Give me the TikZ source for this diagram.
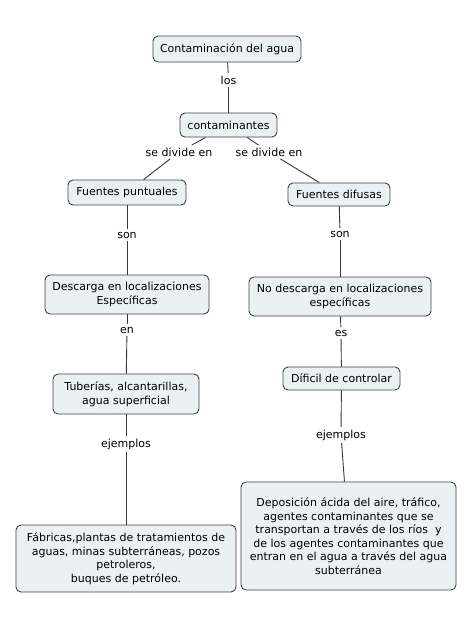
\documentclass[tikz,border=0pt]{standalone}
\usepackage{fontspec}
\setmainfont{DejaVu Sans}
\definecolor{boxfill}{HTML}{EBF1F3}
\definecolor{boxline}{HTML}{404040}
\definecolor{conn}{HTML}{383838}
\begin{document}
\begin{tikzpicture}[x=1pt,y=-1pt,
  concept/.style={draw=boxline,line width=0.9pt,fill=boxfill,rounded corners=5pt,
    inner sep=0pt,align=center,font=\fontsize{11}{13.5}\selectfont},
  lbl/.style={inner sep=2.5pt,font=\fontsize{11}{13.5}\selectfont},
  link/.style={draw=conn,line width=0.9pt}]
\useasboundingbox[fill=white] (0,0) rectangle (474,630);
% concepts
\node[concept,minimum width=148pt,minimum height=26pt] (top) at (227,49) {Contaminación del agua};
\node[concept,minimum width=97pt,minimum height=24pt] (cont) at (228.5,125) {contaminantes};
\node[concept,minimum width=118pt,minimum height=25pt] (fp) at (127,192.5) {Fuentes puntuales};
\node[concept,minimum width=102pt,minimum height=23pt] (fd) at (339,194.5) {Fuentes difusas};
\node[concept,minimum width=164pt,minimum height=39pt] (desc) at (127,294.5) {Descarga en localizaciones\\Específicas};
\node[concept,minimum width=182pt,minimum height=39pt] (nodesc) at (340,296.5) {No descarga en localizaciones\\específicas};
\node[concept,minimum width=117pt,minimum height=23pt] (dif) at (341.5,378.5) {Díficil de controlar};
\node[concept,minimum width=146pt,minimum height=40pt] (tub) at (126,394) {Tuberías, alcantarillas,\\agua superficial};
\node[concept,minimum width=220pt,minimum height=67pt] (fab) at (126,558.5) {Fábricas,plantas de tratamientos de\\aguas, minas subterráneas, pozos\\petroleros,\\buques de petróleo.};
\node[concept,minimum width=215pt,minimum height=108pt] (dep) at (348.5,536) {Deposición ácida del aire, tráfico,\\agentes contaminantes que se\\transportan a través de los ríos\ \ y\\de los agentes contaminantes que\\entran en el agua a través del agua\\subterránea};
% linking phrases
\node[lbl] (l1) at (228.5,80) {los};
\node[lbl] (l2) at (179,152) {se divide en};
\node[lbl] (l3) at (269,152) {se divide en};
\node[lbl] (l4) at (127,235) {son};
\node[lbl] (l5) at (340,234) {son};
\node[lbl] (l6) at (127,330) {en};
\node[lbl] (l7) at (341,333) {es};
\node[lbl] (l8) at (126,444) {ejemplos};
\node[lbl] (l9) at (341,435) {ejemplos};
% connectors
\draw[link] (top) -- (l1);
\draw[link] (l1) -- (cont);
\draw[link] (cont) -- (l2);
\draw[link] (l2) -- (fp);
\draw[link] (cont) -- (l3);
\draw[link] (l3) -- (fd);
\draw[link] (fp) -- (l4);
\draw[link] (l4) -- (desc);
\draw[link] (fd) -- (l5);
\draw[link] (l5) -- (nodesc);
\draw[link] (desc) -- (l6);
\draw[link] (l6) -- (tub);
\draw[link] (nodesc) -- (l7);
\draw[link] (l7) -- (dif);
\draw[link] (tub) -- (l8);
\draw[link] (l8) -- (fab);
\draw[link] (dif) -- (l9);
\draw[link] (l9) -- (dep);
\end{tikzpicture}
\end{document}
